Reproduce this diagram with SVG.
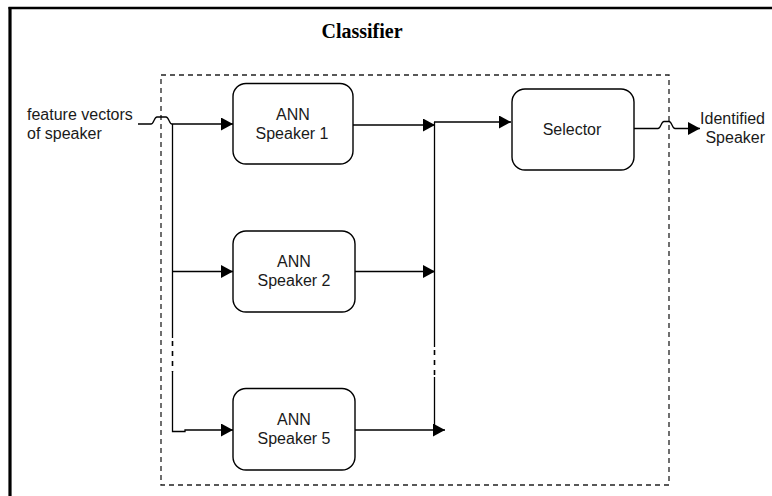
<svg xmlns="http://www.w3.org/2000/svg" width="772" height="496" viewBox="0 0 772 496">
<style>
.frame{stroke:#000;fill:none}
.box{fill:#fff;stroke:#000;stroke-width:1.4}
.lbl{font-family:"Liberation Sans",Arial,sans-serif;font-size:16px;fill:#1a1a1a;text-anchor:middle}
.side{font-family:"Liberation Sans",Arial,sans-serif;font-size:16px;fill:#1a1a1a}
.title{font-family:"Liberation Serif","Times New Roman",serif;font-size:20px;font-weight:bold;fill:#000;text-anchor:middle}
.wire{fill:none;stroke:#000;stroke-width:1.3}
.dwire{fill:none;stroke:#000;stroke-width:1.6;stroke-dasharray:5 5}
.group{fill:none;stroke:#222;stroke-width:1.3;stroke-dasharray:5 4}
</style>
<defs>
<marker id="arr" markerUnits="userSpaceOnUse" markerWidth="12" markerHeight="13" refX="12" refY="6.5" orient="auto">
<path d="M0,0 L12,6.5 L0,13 z" fill="#000"/>
</marker>
</defs>
<rect width="772" height="496" fill="#fff"/>
<g id="frame">
<line class="frame" x1="10" y1="7" x2="10" y2="496" stroke-width="3.2"/>
<line class="frame" x1="8.5" y1="8" x2="772" y2="8" stroke-width="2.6"/>
</g>
<g id="classifier">
<rect class="group" x="161" y="75" width="508" height="410"/>
<text class="title" x="362" y="38">Classifier</text>
</g>
<g id="connectors">
<path class="wire" d="M138,124 L151,124 C154,124 154,117 157,117 L166,117 C169,117 169,124 172,124 L233,124" marker-end="url(#arr)"/>
<path class="wire" d="M172.5,124 L172.5,338"/>
<path class="dwire" d="M172.5,341 L172.5,372"/>
<path class="wire" d="M172.5,372 L172.5,431.5 L185,431.5 L185,430 L233,430" marker-end="url(#arr)"/>
<path class="wire" d="M172.5,271.5 L233,271.5" marker-end="url(#arr)"/>
<path class="wire" d="M353,125 L435,125" marker-end="url(#arr)"/>
<path class="wire" d="M355,271.5 L435,271.5" marker-end="url(#arr)"/>
<path class="wire" d="M355,430 L445,430" marker-end="url(#arr)"/>
<path class="wire" d="M434.5,122 L434.5,347"/>
<path class="dwire" d="M434.5,350 L434.5,377"/>
<path class="wire" d="M434.5,377 L434.5,430"/>
<path class="wire" d="M434,122 L511,122" marker-end="url(#arr)"/>
<path class="wire" d="M634,128.5 L658,128.5 C661,128.5 661,121.5 664,121.5 L669,121.5 C672,121.5 672,128.5 675,128.5 L700,128.5" marker-end="url(#arr)"/>
</g>
<g id="input-label">
<text class="side" x="27" y="120">feature vectors</text>
<text class="side" x="27" y="139">of speaker</text>
</g>
<g id="ann1">
<rect class="box" x="233" y="83.5" width="120" height="80.5" rx="13"/>
<text class="lbl" x="293" y="120">ANN</text>
<text class="lbl" x="292" y="139">Speaker 1</text>
</g>
<g id="ann2">
<rect class="box" x="233" y="231" width="122" height="81" rx="13"/>
<text class="lbl" x="294" y="267">ANN</text>
<text class="lbl" x="294" y="286">Speaker 2</text>
</g>
<g id="ann5">
<rect class="box" x="233" y="388.5" width="122" height="81.5" rx="13"/>
<text class="lbl" x="294" y="425">ANN</text>
<text class="lbl" x="294" y="444">Speaker 5</text>
</g>
<g id="selector">
<rect class="box" x="512" y="89" width="122" height="81" rx="13"/>
<text class="lbl" x="572" y="135">Selector</text>
</g>
<g id="output-label">
<text class="side" x="765" y="124" text-anchor="end">Identified</text>
<text class="side" x="765" y="143" text-anchor="end">Speaker</text>
</g>
</svg>
